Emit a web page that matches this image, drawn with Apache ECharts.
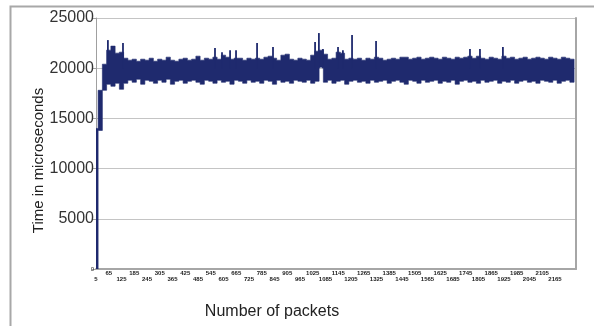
<!DOCTYPE html>
<html>
<head>
<meta charset="utf-8">
<script src="https://cdn.jsdelivr.net/npm/echarts@6/dist/echarts.min.js"></script>
<style>
html,body{margin:0;padding:0;background:#fff;}
#chart{width:594px;height:326px;}
</style>
</head>
<body>
<div id="chart"></div>
<script>
// x-axis: packet numbers
const firstPacket = 5;
const packetCount = 2260;
const labelEvery = 60;
// y-axis ticks
const yTicks = [0, 5000, 10000, 15000, 20000, 25000];
// band of the dense trace, read every 20 packets: upper edge and lower edge
const sampleStep = 20;
const bandTop = [
  14000, 17800, 20400, 21800, 22200, 21500, 21600, 21000, 20800, 20900,
  20700, 20900, 20800, 21000, 20700, 20900, 20800, 21100, 20800, 20700,
  20900, 21000, 20800, 20900, 21200, 20800, 21000, 20900, 21100, 20900,
  21300, 21100, 20900, 21000, 21000, 20800, 21000, 20900, 21000, 20900,
  21100, 21200, 21000, 20800, 21300, 21400, 20900, 20800, 21000, 20900,
  20800, 21300, 21700, 21800, 21400, 20900, 21000, 21600, 21500, 20900,
  21000, 20900, 21000, 20800, 21000, 20900, 21100, 21000, 20800, 20900,
  21000, 20900, 21100, 21100, 20900, 21000, 21100, 20900, 21000, 21100,
  21000, 20900, 21100, 21000, 20900, 21100, 21000, 21100, 21200, 21000,
  21200, 21000, 20900, 21100, 21000, 20900, 21200, 21000, 21100, 20900,
  21000, 21100, 20900, 21000, 21100, 21000, 20900, 21100, 21000, 20900,
  21100, 21000, 20900
];
const bandBottom = [
  0, 13800, 17800, 18400, 18200, 18500, 17900, 18500, 18800, 18600,
  18900, 18400, 18800, 18700, 18500, 18800, 18600, 18900, 18400, 18700,
  18800, 18500, 18700, 18800, 18600, 18400, 18800, 18700, 18500, 18800,
  18600, 18700, 18400, 18800, 18700, 18500, 18800, 18600, 18700, 18500,
  18800, 18700, 18400, 18800, 18600, 18700, 18500, 18800, 18700, 18600,
  18800, 18500, 18700, 20100, 18600, 18800, 18500, 18700, 18800, 18400,
  18700, 18800, 18600, 18700, 18500, 18800, 18600, 18700, 18800, 18500,
  18700, 18800, 18600, 18400, 18800, 18700, 18500, 18800, 18600, 18700,
  18800, 18500, 18700, 18600, 18800, 18400, 18700, 18800, 18600, 18700,
  18500, 18800, 18600, 18700, 18800, 18500, 18700, 18600, 18800, 18500,
  18700, 18800, 18600, 18700, 18500, 18800, 18700, 18600, 18800, 18500,
  18700, 18800, 18600
];
// isolated tall spikes: packet number and value
const spikePackets = [61, 132, 565, 598, 636, 664, 763, 838, 1036, 1054, 1073, 1144, 1167, 1210, 1323, 1765, 1812, 1920];
const spikeValues  = [22800, 22500, 22000, 21600, 21800, 21800, 22500, 22100, 22600, 23500, 21900, 22100, 21800, 23300, 22700, 21900, 21900, 22100];
const spikeFrom = 20000;

const categories = [];
for (let i = 0; i < packetCount; i++) categories.push(String(firstPacket + i));

const bandData = bandTop.map(function (t, j) { return [j * sampleStep, t, bandBottom[j]]; });
const spikeData = spikePackets.map(function (p, k) { return [p - firstPacket, spikeValues[k]]; });

const NAVY = '#1f2a6e';

const chart = echarts.init(document.getElementById('chart'), null, {renderer: 'canvas'});
chart.setOption({
  animation: false,
  backgroundColor: '#ffffff',
  graphic: [{
    type: 'rect', left: 8, top: 4, silent: true,
    shape: {width: 700, height: 400},
    style: {fill: 'none', stroke: '#a8a8a8', lineWidth: 2}
  }],
  grid: {left: 96, right: 18, top: 18, bottom: 57, containLabel: false},
  xAxis: {
    type: 'category',
    data: categories,
    boundaryGap: false,
    name: 'Number of packets',
    nameLocation: 'middle',
    nameGap: 35,
    nameMoveOverlap: false,
    nameTextStyle: {fontFamily: 'Liberation Sans', fontSize: 16, color: '#222', padding: [0, 128, 0, 0]},
    axisLine: {lineStyle: {color: '#a6a6a6', width: 2}},
    axisTick: {show: false},
    axisLabel: {
      interval: labelEvery - 1,
      margin: 2,
      fontFamily: 'Liberation Sans',
      fontSize: 6,
      fontWeight: 'bold',
      lineHeight: 5.5,
      color: '#222',
      formatter: function (value, index) {
        return (Math.round(index / labelEvery) % 2 === 0) ? '\n' + value : value;
      }
    },
    splitLine: {show: false}
  },
  yAxis: [{
    type: 'value',
    min: yTicks[0],
    max: yTicks[yTicks.length - 1],
    interval: yTicks[1] - yTicks[0],
    name: 'Time in microseconds',
    nameLocation: 'middle',
    nameGap: 50,
    nameMoveOverlap: false,
    nameTextStyle: {fontFamily: 'Liberation Sans', fontSize: 15, color: '#222', padding: [0, 34, 0, 0]},
    axisLine: {show: true, lineStyle: {color: '#a0a0a0', width: 1}},
    axisTick: {show: true, length: 4, lineStyle: {color: '#a0a0a0'}},
    axisLabel: {
      margin: 2,
      formatter: function (v) { return v === 0 ? '{s|0}' : '{n|' + v + '}'; },
      rich: {
        s: {fontFamily: 'Liberation Sans', fontSize: 6, color: '#222'},
        n: {fontFamily: 'Liberation Sans', fontSize: 16, color: '#333'}
      }
    },
    splitLine: {show: true, lineStyle: {color: '#c4c4c4', width: 1}}
  }, {
    type: 'value',
    position: 'right',
    min: yTicks[0],
    max: yTicks[yTicks.length - 1],
    interval: yTicks[1] - yTicks[0],
    axisLine: {show: true, lineStyle: {color: '#a6a6a6', width: 2}},
    axisTick: {show: false},
    axisLabel: {show: false},
    splitLine: {show: false}
  }],
  series: [{
    type: 'custom',
    data: bandData,
    clip: true,
    encode: {x: 0, y: [1, 2]},
    renderItem: function (params, api) {
      if (params.dataIndexInside !== 0) return null;
      const n = params.dataInsideLength;
      const h = sampleStep / 2;
      const pts = [];
      for (let k = 0; k < n; k++) {
        const x = api.value(0, k);
        pts.push(api.coord([Math.max(0, x - h), api.value(1, k)]));
        pts.push(api.coord([Math.min(packetCount - 1, x + h), api.value(1, k)]));
      }
      for (let k = n - 1; k >= 0; k--) {
        const x = api.value(0, k);
        pts.push(api.coord([Math.min(packetCount - 1, x + h), api.value(2, k)]));
        pts.push(api.coord([Math.max(0, x - h), api.value(2, k)]));
      }
      return {
        type: 'polygon',
        shape: {points: pts},
        style: {fill: NAVY, stroke: NAVY, lineWidth: 0.6}
      };
    }
  }, {
    type: 'custom',
    data: spikeData,
    encode: {x: 0, y: 1},
    renderItem: function (params, api) {
      const a = api.coord([api.value(0), spikeFrom]);
      const b = api.coord([api.value(0), api.value(1)]);
      return {
        type: 'line',
        shape: {x1: a[0], y1: a[1], x2: b[0], y2: b[1]},
        style: {stroke: NAVY, lineWidth: 1.8}
      };
    }
  }]
});
</script>
</body>
</html>
